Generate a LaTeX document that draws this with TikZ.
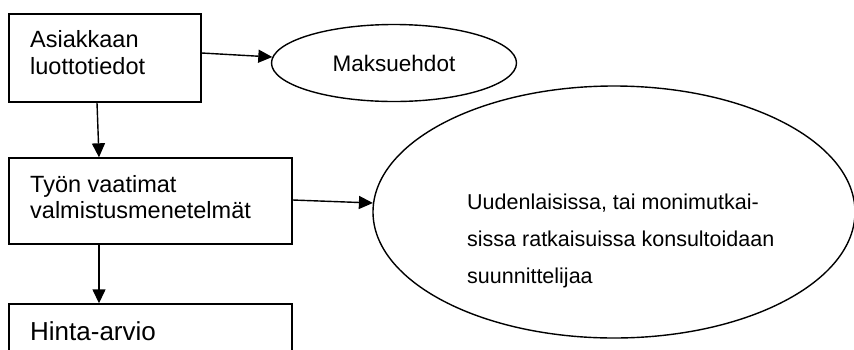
\documentclass[tikz,border=0pt]{standalone}
\usepackage{fontspec}
\setmainfont{Liberation Sans}
\usetikzlibrary{arrows.meta,shapes.geometric}
\begin{document}
\begin{tikzpicture}[x=1pt,y=1pt,
  box/.style={draw, line width=1.4pt, inner sep=0pt},
  oval/.style={draw, ellipse, line width=1.4pt, inner sep=0pt},
  lbl/.style={inner sep=0pt, anchor=base west, font=\fontsize{23.5}{27}\selectfont},
  small/.style={inner sep=0pt, anchor=base west, font=\fontsize{21.5}{26}\selectfont},
  link/.style={-{Triangle[length=14pt,width=13pt]}, line width=1.4pt}]
\useasboundingbox (0,0) rectangle (854,-349);
\clip (0,0) rectangle (854,-349);

% boxes
\node[box, minimum width=192pt, minimum height=88pt] (b1) at (105,-58) {};
\node[box, minimum width=283pt, minimum height=86pt] (b2) at (150.5,-201) {};
\node[box, minimum width=283pt, minimum height=86pt] (b3) at (150.5,-347) {};

% box texts
\node[lbl] (t1a) at (30,-47) {Asiakkaan};
\node[lbl] (t1b) at (30,-74) {luottotiedot};
\node[lbl] (t2a) at (30,-192) {Työn vaatimat};
\node[lbl] (t2b) at (30,-218) {valmistusmenetelmät};
\node[lbl, font=\fontsize{26}{30}\selectfont] (t3) at (30,-340) {Hinta-arvio};

% ellipses
\node[oval, minimum width=245pt, minimum height=77pt,
      font=\fontsize{22.5}{27}\selectfont] (m1) at (394,-63) {Maksuehdot};
\node[oval, minimum width=482pt, minimum height=252pt] (e2) at (614,-212) {};

\node[small] (u1) at (467,-209) {Uudenlaisissa, tai monimutkai-};
\node[small] (u2) at (467,-246) {sissa ratkaisuissa konsultoidaan};
\node[small] (u3) at (467,-283) {suunnittelijaa};

% connectors
\draw[link] ([yshift=5pt]b1.east) -- ([xshift=1.5pt,yshift=6pt]m1.west);
\draw[link] ([xshift=-8pt]b1.south) -- ([xshift=-51.5pt]b2.north);
\draw[link] ([yshift=1pt]b2.east) -- ([xshift=0.6pt,yshift=9pt]e2.west);
\draw[link] ([xshift=-51.5pt]b2.south) -- ([xshift=-51.5pt]b3.north);
\end{tikzpicture}
\end{document}
